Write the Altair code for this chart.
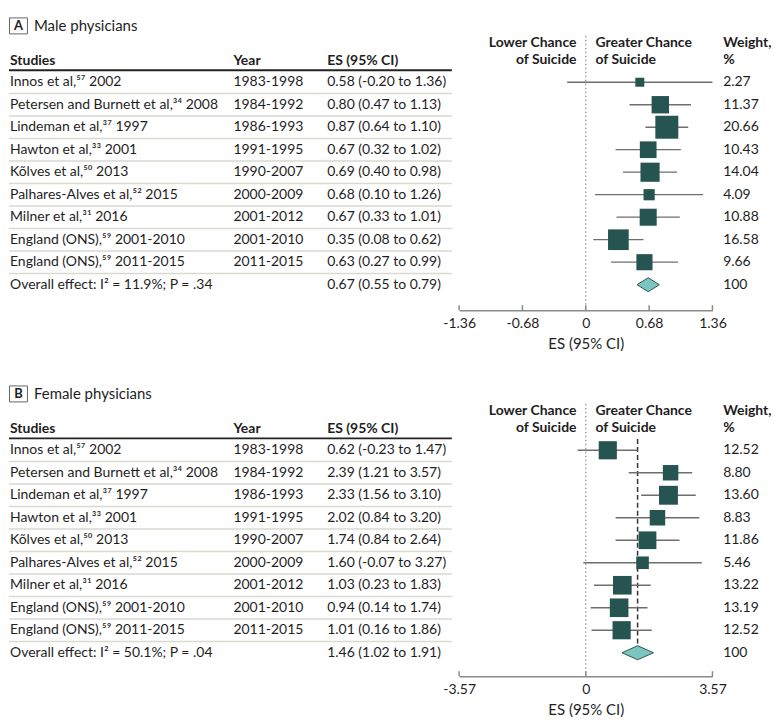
import altair as alt
import pandas as pd

FONT = "Lato"
INK = "#1e1e1e"
SQUARE = "#265450"
DIAMOND_FILL = "#7cc5c1"
DIAMOND_STROKE = "#2b5752"
CI_COLOR = "#6e6e6e"
SEP_COLOR = "#d9d9d0"

# ---------------- data ----------------
studies = [
    "Innos et al,\u2075\u2077 2002",
    "Petersen and Burnett et al,\u00b3\u2074 2008",
    "Lindeman et al,\u00b3\u2077 1997",
    "Hawton et al,\u00b3\u00b3 2001",
    "K\u00f5lves et al,\u2075\u2070 2013",
    "Palhares-Alves et al,\u2075\u00b2 2015",
    "Milner et al,\u00b3\u00b9 2016",
    "England (ONS),\u2075\u2079 2001-2010",
    "England (ONS),\u2075\u2079 2011-2015",
]
years = ["1983-1998", "1984-1992", "1986-1993", "1991-1995", "1990-2007",
         "2000-2009", "2001-2012", "2001-2010", "2011-2015"]

male_es = [0.58, 0.80, 0.87, 0.67, 0.69, 0.68, 0.67, 0.35, 0.63]
male_lo = [-0.20, 0.47, 0.64, 0.32, 0.40, 0.10, 0.33, 0.08, 0.27]
male_hi = [1.36, 1.13, 1.10, 1.02, 0.98, 1.26, 1.01, 0.62, 0.99]
male_hi_drawn = [1.36, 1.13, 1.10, 1.02, 0.98, 1.26, 1.01, 0.62, 0.99]
male_w = [2.27, 11.37, 20.66, 10.43, 14.04, 4.09, 10.88, 16.58, 9.66]
male_overall = [0.67, 0.55, 0.79]
male_overall_label = "Overall effect: I\u00b2 = 11.9%; P = .34"
male_ticks = [-1.36, -0.68, 0, 0.68, 1.36]

female_es = [0.62, 2.39, 2.33, 2.02, 1.74, 1.60, 1.03, 0.94, 1.01]
female_lo = [-0.23, 1.21, 1.56, 0.84, 0.84, -0.07, 0.23, 0.14, 0.16]
female_hi = [1.47, 3.57, 3.10, 3.20, 2.64, 3.27, 1.83, 1.74, 1.86]
female_hi_drawn = [1.47, 3.00, 3.10, 3.20, 2.64, 3.27, 1.83, 1.74, 1.86]
female_w = [12.52, 8.80, 13.60, 8.83, 11.86, 5.46, 13.22, 13.19, 12.52]
female_overall = [1.46, 1.02, 1.91]
female_overall_label = "Overall effect: I\u00b2 = 50.1%; P = .04"
female_ticks = [-3.57, 0, 3.57]

W = 764
ROW_TOP, ROW_BOTTOM = 73.5, 276.5
X_RANGE = [451.3, 705.3]
WX = 716
dummy = pd.DataFrame({"k": [0]})


def label(text, x, y, align="left", weight="normal", size=14, color=INK):
    return alt.Chart(pd.DataFrame({"t": [text]})).mark_text(
        align=align, baseline="middle", font=FONT, fontSize=size,
        fontWeight=weight, color=color
    ).encode(text="t:N", x=alt.value(x), y=alt.value(y))


def panel(letter, title, es, lo, hi, hi_drawn, w, overall, overall_label,
          ticks, height, size_range, dashed):
    n = len(es)
    xmax = ticks[-1]
    xs = alt.Scale(domain=[-xmax, xmax], range=X_RANGE, nice=False, zero=False)
    ys = alt.Scale(domain=[0, 9], range=[ROW_TOP, ROW_BOTTOM], nice=False, zero=False)
    axis = alt.Axis(
        values=ticks, title="ES (95% CI)", grid=False, ticks=False,
        domainColor="#8a8a8a", domainWidth=1.5,
        labelFont=FONT, labelFontSize=14, labelColor=INK, labelPadding=6,
        labelFlush=False, labelOverlap=False,
        labelExpr="datum.value == 0 ? '0' : (datum.value < 0 ? '-' : '') + format(abs(datum.value), '.2f')",
        titleFont=FONT, titleFontSize=15, titleFontWeight="normal",
        titleColor=INK, titlePadding=6,
    )

    d = pd.DataFrame({"row": list(range(n)), "es": es, "lo": lo,
                      "hi": hi_drawn, "w": w})
    d["sep"] = d["row"] + 0.5

    t = pd.DataFrame({
        "row": list(range(n + 1)),
        "study": studies + [overall_label],
        "year": years + [""],
        "es_txt": [f"{e:.2f} ({l:.2f} to {h:.2f})" for e, l, h in zip(es, lo, hi)]
        + [f"{overall[0]:.2f} ({overall[1]:.2f} to {overall[2]:.2f})"],
        "w_txt": [f"{x:.2f}" for x in w] + ["100"],
    })

    hd = 7.0 / 22.55
    dia = pd.DataFrame({
        "x": [overall[1], overall[0], overall[2]],
        "y": [n, n - hd, n],
        "y2": [n, n + hd, n],
    })

    X = lambda f: alt.X(f, scale=xs, axis=axis)
    Y = lambda f: alt.Y(f, scale=ys, axis=None)

    layers = []
    layers.append(
        alt.Chart(pd.DataFrame({"z": [0.0]})).mark_rule(
            color="#777777", strokeWidth=1, strokeDash=[1.5, 2.5]
        ).encode(x=X("z:Q"), y=alt.value(27), y2=alt.value(height))
    )
    layers.append(
        alt.Chart(pd.DataFrame({"t": ticks})).mark_rule(
            color="#8a8a8a", strokeWidth=1.5
        ).encode(x=X("t:Q"), y=alt.value(height - 5), y2=alt.value(height))
    )
    if dashed:
        layers.append(
            alt.Chart(pd.DataFrame({"es": [overall[0]], "top": [-0.5], "row": [n]}))
            .mark_rule(color="#333333", strokeWidth=1.5, strokeDash=[5, 3])
            .encode(x=X("es:Q"), y=Y("top:Q"), y2="row:Q")
        )
    layers.append(
        alt.Chart(d).mark_rule(color=SEP_COLOR, strokeWidth=1.5).encode(
            x=alt.value(0), x2=alt.value(444), y=Y("sep:Q"))
    )
    layers.append(
        alt.Chart(dummy).mark_rule(color="#222222", strokeWidth=1.8).encode(
            x=alt.value(0), x2=alt.value(444), y=alt.value(61.5))
    )
    layers.append(
        alt.Chart(d).mark_rule(color=CI_COLOR, strokeWidth=1.3).encode(
            x=X("lo:Q"), x2="hi:Q", y=Y("row:Q"))
    )
    layers.append(
        alt.Chart(d).mark_square(color=SQUARE, opacity=1).encode(
            x=X("es:Q"), y=Y("row:Q"),
            size=alt.Size("w:Q", scale=alt.Scale(domain=[0, max(w)], range=size_range),
                          legend=None))
    )
    layers.append(
        alt.Chart(dia).mark_area(
            orient="vertical", fill=DIAMOND_FILL, stroke=DIAMOND_STROKE,
            strokeWidth=1, opacity=1
        ).encode(x=X("x:Q"), y=Y("y:Q"), y2="y2:Q")
    )
    base = alt.Chart(t).mark_text(align="left", baseline="middle", font=FONT,
                                  fontSize=14, color=INK)
    layers.append(base.encode(text="study:N", x=alt.value(1), y=Y("row:Q")))
    layers.append(base.encode(text="year:N", x=alt.value(225), y=Y("row:Q")))
    layers.append(base.encode(text="es_txt:N", x=alt.value(319), y=Y("row:Q")))
    layers.append(base.encode(text="w_txt:N", x=alt.value(WX), y=Y("row:Q")))

    layers += [
        label("Studies", 1, 52, weight="bold"),
        label("Year", 225, 52, weight="bold"),
        label("ES (95% CI)", 319, 52, weight="bold"),
        label("Lower Chance", 569, 34, align="right", weight="bold"),
        label("of Suicide", 569, 51, align="right", weight="bold"),
        label("Greater Chance", 588, 34, weight="bold"),
        label("of Suicide", 588, 51, weight="bold"),
        label("Weight,", WX, 34, weight="bold"),
        label("%", WX, 51, weight="bold"),
    ]
    layers.append(
        alt.Chart(dummy).mark_rect(fill="white", stroke="#666666", strokeWidth=1).encode(
            x=alt.value(0.5), x2=alt.value(18.5), y=alt.value(9), y2=alt.value(25))
    )
    layers.append(label(letter, 9.5, 17.5, align="center", weight="bold", size=13))
    layers.append(label(title, 25, 17, size=15))

    return alt.layer(*layers).properties(width=W, height=height)


pA = panel("A", "Male physicians", male_es, male_lo, male_hi, male_hi_drawn, male_w,
           male_overall, male_overall_label, male_ticks, 302, [26, 530], False)
pB = panel("B", "Female physicians", female_es, female_lo, female_hi, female_hi_drawn,
           female_w, female_overall, female_overall_label, female_ticks, 300, [22, 170], True)

chart = alt.vconcat(pA, pB, spacing=26).properties(padding=0).configure(
    font=FONT, view=alt.ViewConfig(stroke="transparent", strokeWidth=0))

chart.save("out.html", embed_options={"renderer": "svg", "actions": False})
